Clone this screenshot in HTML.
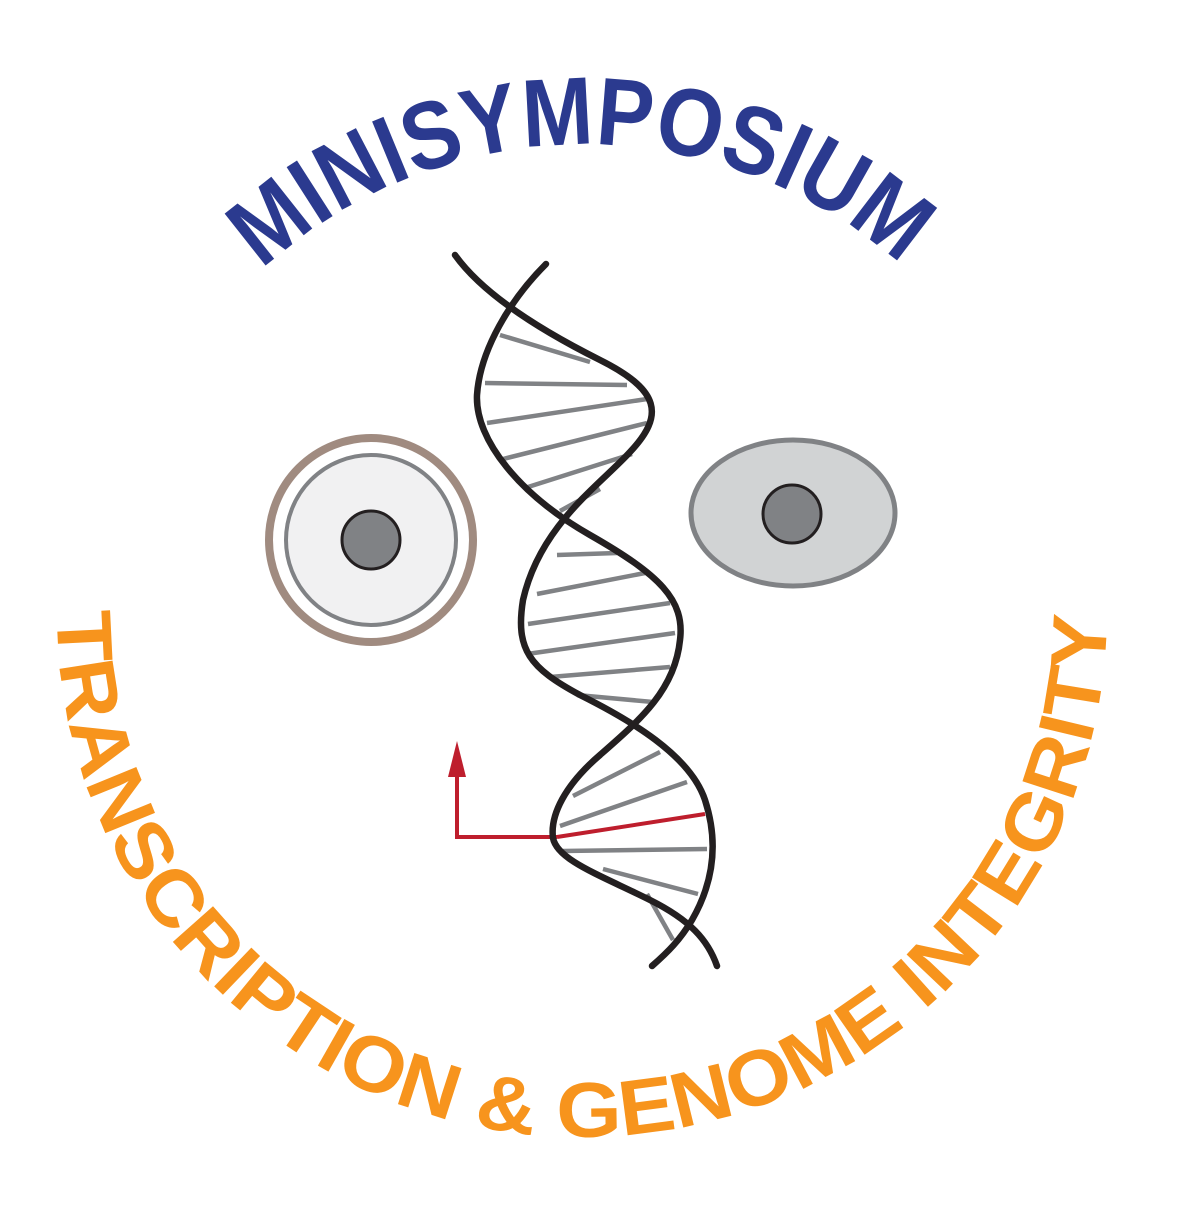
<!DOCTYPE html>
<html><head><meta charset="utf-8"><style>
html,body{margin:0;padding:0;background:#fff;}
svg{display:block}
</style></head><body>
<svg width="1181" height="1209" viewBox="0 0 1181 1209" xmlns="http://www.w3.org/2000/svg">
<defs>
<path id="top" d="M262,270 A476,476 0 0 1 902,266"/>
<path id="bot" d="M57,612 A525,525 0 0 0 1107,612"/>
</defs>
<text font-family="Liberation Sans, sans-serif" font-weight="bold" font-size="96" fill="#2b3a8f">
<textPath href="#top" textLength="700" lengthAdjust="spacingAndGlyphs">MINISYMPOSIUM</textPath></text>
<text font-family="Liberation Sans, sans-serif" font-weight="bold" font-size="78" fill="#f7941d">
<textPath href="#bot" textLength="1645" lengthAdjust="spacingAndGlyphs">TRANSCRIPTION &amp; GENOME INTEGRITY</textPath></text>

<!-- left eye -->
<circle cx="371" cy="540" r="102" fill="#fff" stroke="#a08b80" stroke-width="8"/>
<circle cx="371" cy="540" r="85" fill="#f1f1f2" stroke="#808285" stroke-width="4"/>
<circle cx="371" cy="540" r="29" fill="#808285" stroke="#231f20" stroke-width="3"/>
<!-- right eye -->
<ellipse cx="793" cy="513" rx="102" ry="73" fill="#d1d3d4" stroke="#808285" stroke-width="5"/>
<circle cx="792" cy="514" r="29" fill="#808285" stroke="#231f20" stroke-width="3"/>

<!-- rungs -->
<g stroke="#808285" stroke-width="4.5">
<line x1="500" y1="335" x2="590" y2="362"/>
<line x1="485" y1="383" x2="627" y2="385"/>
<line x1="487" y1="423" x2="647" y2="399"/>
<line x1="503" y1="459" x2="647" y2="423"/>
<line x1="528" y1="487" x2="632" y2="454"/>
<line x1="560" y1="511" x2="600" y2="489"/>
<line x1="557" y1="555" x2="617" y2="553"/>
<line x1="537" y1="594" x2="645" y2="573"/>
<line x1="528" y1="624" x2="670" y2="603"/>
<line x1="527" y1="654" x2="675" y2="633"/>
<line x1="550" y1="677" x2="670" y2="667"/>
<line x1="577" y1="695" x2="653" y2="702"/>
<line x1="573" y1="796" x2="660" y2="752"/>
<line x1="560" y1="826" x2="687" y2="782"/>
<line x1="563" y1="851" x2="707" y2="849"/>
<line x1="603" y1="869" x2="698" y2="894"/>
<line x1="647" y1="894" x2="673" y2="940"/>
</g>
<g stroke="#be1e2d" stroke-width="4" fill="none">
<line x1="557" y1="837" x2="705" y2="814"/>
<polyline points="557,837 457,837 457,772"/>
</g>
<polygon points="448,777 466,777 457,741" fill="#be1e2d"/>

<!-- strands -->
<g stroke="#231f20" stroke-width="6.5" fill="none" stroke-linecap="round">
<path d="M455,255 C480,290 530,325 600,360 C660,390 665,415 630,452 C600,485 540,525 523,600 C515,650 530,668 580,695 C630,720 690,755 705,800 C718,840 715,880 692,920 C680,940 668,952 652,966"/>
<path d="M546,264 C510,300 480,350 477,395 C475,440 520,495 590,535 C660,575 685,600 680,640 C675,690 640,720 600,755 C565,785 550,815 553,838 C557,860 600,875 650,900 C690,920 708,940 717,966"/>
</g>
</svg>
</body></html>
